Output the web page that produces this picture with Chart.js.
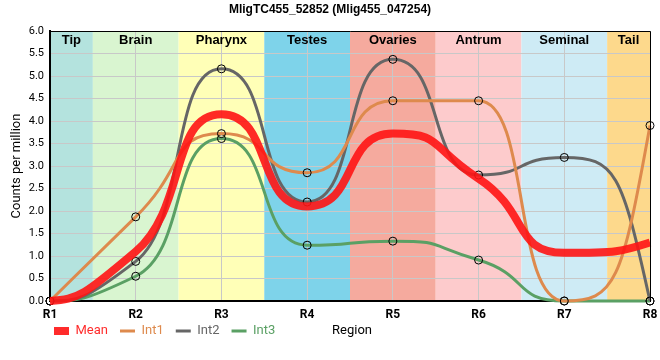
<!DOCTYPE html>
<html><head><meta charset="utf-8">
<script src="https://cdn.jsdelivr.net/npm/chart.js@4/dist/chart.umd.min.js"></script>
<style>html,body{margin:0;padding:0;background:#fff;} #wrap{width:660px;height:360px;}</style>
</head><body><div id="wrap"><canvas id="c" width="660" height="360"></canvas></div>
<script>
// ---- data ----
const categories = ['R1', 'R2', 'R3', 'R4', 'R5', 'R6', 'R7', 'R8'];
const seriesNames = ['Mean', 'Int1', 'Int2', 'Int3'];
const meanValues = [0, 1.1, 4.15, 2.1, 3.72, 2.72, 1.07, 1.3];
const int1Values = [0, 1.87, 3.72, 2.85, 4.45, 4.45, 0, 3.9];
const int2Values = [0, 0.88, 5.16, 2.2, 5.37, 2.8, 3.19, 0];
const int3Values = [0, 0.55, 3.61, 1.24, 1.33, 0.91, 0, 0];
const regionNames = ['Tip', 'Brain', 'Pharynx', 'Testes', 'Ovaries', 'Antrum', 'Seminal', 'Tail'];
const yMin = 0, yMax = 6, yStep = 0.5;
const chartTitle = 'MligTC455_52852 (Mlig455_047254)';
const xTitle = 'Region';
const yTitle = 'Counts per million';

// ---- styles ----
const regionColors = ['#b4e3de', '#d9f5d0', '#ffffb7', '#7ed3ea', '#f5aa9e', '#fdcbcc', '#ceebf5', '#fdd98c'];
const seriesColors = ['rgba(255,20,20,0.9)', '#de8a4d', '#666666', '#5aa064'];
const seriesWidths = [8, 3, 3, 3];
const seriesValues = [meanValues, int1Values, int2Values, int3Values];
const HANDLE_INNER = 0.6;   // bezier handle length (fraction of spacing) at interior points
const HANDLE_END = 1 / 3;   // at the two end points
const END_TANGENT_GAIN = 2.7; // last point tangent relative to last secant

Chart.defaults.font.family = "Roboto, 'Liberation Sans', sans-serif";
Chart.defaults.color = '#000';

const LEGEND_LEFT = 42, LEGEND_TEXT_Y = 331;

function endSlope(h0, h1, d0, d1) {
  let m = ((2 * h0 + h1) * d0 - h0 * d1) / (h0 + h1);
  if (Math.sign(m) !== Math.sign(d0)) m = 0;
  else if (Math.sign(d0) !== Math.sign(d1) && Math.abs(m) > Math.abs(3 * d0)) m = 3 * d0;
  return m;
}

const smoothPlugin = {
  id: 'smooth',
  afterDatasetsUpdate(chart) {
    chart.data.datasets.forEach((ds, di) => {
      const meta = chart.getDatasetMeta(di);
      const pts = meta.data, n = pts.length;
      if (n < 3) return;
      const h = [], d = [];
      for (let i = 0; i < n - 1; i++) {
        h[i] = pts[i + 1].x - pts[i].x;
        d[i] = (pts[i + 1].y - pts[i].y) / h[i];
      }
      const m = new Array(n).fill(0);
      for (let i = 1; i < n - 1; i++) {
        if (d[i - 1] * d[i] > 0) {
          const w1 = 2 * h[i] + h[i - 1], w2 = h[i] + 2 * h[i - 1];
          m[i] = (w1 + w2) / (w1 / d[i - 1] + w2 / d[i]);
        }
      }
      m[0] = endSlope(h[0], h[1], d[0], d[1]);
      m[n - 1] = END_TANGENT_GAIN * d[n - 2];
      for (let i = 0; i < n; i++) {
        const p = pts[i];
        const k = (i === 0 || i === n - 1) ? HANDLE_END : HANDLE_INNER;
        if (i > 0) {
          const hx = k * h[i - 1];
          let dy = m[i] * hx;
          const lim = Math.abs(p.y - pts[i - 1].y);
          if (Math.abs(dy) > lim) dy = Math.sign(dy) * lim;
          p.cp1x = p.x - hx; p.cp1y = p.y - dy;
        } else { p.cp1x = p.x; p.cp1y = p.y; }
        if (i < n - 1) {
          const hx = k * h[i];
          let dy = m[i] * hx;
          const lim = Math.abs(pts[i + 1].y - p.y);
          if (Math.abs(dy) > lim) dy = Math.sign(dy) * lim;
          p.cp2x = p.x + hx; p.cp2y = p.y + dy;
        } else { p.cp2x = p.x; p.cp2y = p.y; }
      }
      if (meta.dataset) meta.dataset._pointsUpdated = true;
    });
  }
};

const decorPlugin = {
  id: 'decor',
  afterLayout(chart) {
    const lg = chart.legend;
    if (!lg) return;
    const pad = lg.options.labels.padding;
    const fs = lg.options.labels.font.size;
    const newTop = LEGEND_TEXT_Y - pad - fs / 2;
    const h = lg.height, w = lg.width;
    lg.top = newTop; lg.bottom = newTop + h;
    lg.left = LEGEND_LEFT; lg.right = LEGEND_LEFT + w;
  },
  beforeDraw(chart) {
    const {ctx, chartArea: a, scales: {x}} = chart;
    ctx.save();
    ctx.fillStyle = '#fff';
    ctx.fillRect(0, 0, chart.width, chart.height);
    regionNames.forEach((name, i) => {
      const l = Math.max(a.left, x.getPixelForValue(i - 0.5));
      const r = Math.min(a.right, x.getPixelForValue(i + 0.5));
      ctx.fillStyle = regionColors[i];
      ctx.fillRect(l, a.top, r - l, a.bottom - a.top);
    });
    ctx.restore();
  },
  beforeDatasetsDraw(chart) {
    const {ctx, chartArea: a, scales: {x}} = chart;
    ctx.save();
    ctx.font = "bold 13px 'Liberation Sans', Arial, sans-serif";
    ctx.fillStyle = '#000';
    ctx.textAlign = 'center';
    ctx.textBaseline = 'middle';
    regionNames.forEach((name, i) => {
      const l = Math.max(a.left, x.getPixelForValue(i - 0.5));
      const r = Math.min(a.right, x.getPixelForValue(i + 0.5));
      ctx.fillText(name, (l + r) / 2, a.top + 9);
    });
    ctx.restore();
  },
  afterDraw(chart) {
    const {ctx, chartArea: a} = chart;
    ctx.save();
    ctx.strokeStyle = '#000';
    ctx.lineWidth = 1;
    ctx.beginPath();
    ctx.moveTo(a.left, a.top + 0.5);
    ctx.lineTo(a.right + 0.5, a.top + 0.5);
    ctx.lineTo(a.right + 0.5, a.bottom);
    ctx.stroke();
    ctx.font = "13px Roboto, sans-serif";
    ctx.fillStyle = '#000';
    ctx.textAlign = 'center';
    ctx.textBaseline = 'middle';
    ctx.fillText(xTitle, (a.left + a.right) / 2 + 2, LEGEND_TEXT_Y);
    ctx.restore();
  }
};

new Chart(document.getElementById('c'), {
  type: 'line',
  data: {
    labels: categories,
    datasets: seriesNames.map((name, i) => ({
      label: name,
      data: seriesValues[i],
      borderColor: seriesColors[i],
      backgroundColor: seriesColors[i],
      borderWidth: seriesWidths[i],
      cubicInterpolationMode: 'monotone',
      fill: false,
      pointRadius: i === 0 ? 0 : 4,
      pointBorderColor: '#000',
      pointBorderWidth: 1,
      pointBackgroundColor: 'rgba(0,0,0,0)',
      clip: 6
    }))
  },
  options: {
    responsive: false,
    animation: false,
    events: [],
    layout: {padding: {left: 0, right: 0, top: 0, bottom: 0}},
    plugins: {
      tooltip: {enabled: false},
      title: {
        display: true,
        text: chartTitle,
        font: {size: 12, weight: 'bold', family: "'Liberation Sans', Arial, sans-serif"},
        color: '#000',
        padding: {top: 2, bottom: 14.6}
      },
      legend: {
        position: 'bottom',
        align: 'start',
        labels: {
          usePointStyle: true,
          pointStyleWidth: 15,
          padding: 12,
          font: {size: 13},
          generateLabels(chart) {
            return chart.data.datasets.map((ds, i) => ({
              text: ds.label,
              fillStyle: ds.borderColor,
              strokeStyle: ds.borderColor,
              lineWidth: ds.borderWidth,
              fontColor: ds.borderColor,
              pointStyle: 'line',
              lineCap: 'butt',
              hidden: false,
              datasetIndex: i
            }));
          }
        }
      }
    },
    scales: {
      x: {
        offset: false,
        grid: {color: '#c8c8c8', drawTicks: false},
        border: {color: '#000', width: 2},
        ticks: {font: {size: 12, weight: 'bold'}, padding: 7, color: '#000'},
        afterFit(s) { s.height = 24; s.paddingRight = 10; }
      },
      y: {
        min: yMin, max: yMax,
        grid: {color: '#c8c8c8', drawTicks: false},
        border: {color: '#000', width: 2},
        ticks: {stepSize: yStep, font: {size: 11}, padding: 6, color: '#000',
                callback: v => Number(v).toFixed(1)},
        title: {display: true, text: yTitle, font: {size: 13}, color: '#000', padding: {top: 9, bottom: 0}},
        afterFit(s) { s.width = 50; }
      }
    }
  },
  plugins: [smoothPlugin, decorPlugin]
});
</script>
</body></html>
